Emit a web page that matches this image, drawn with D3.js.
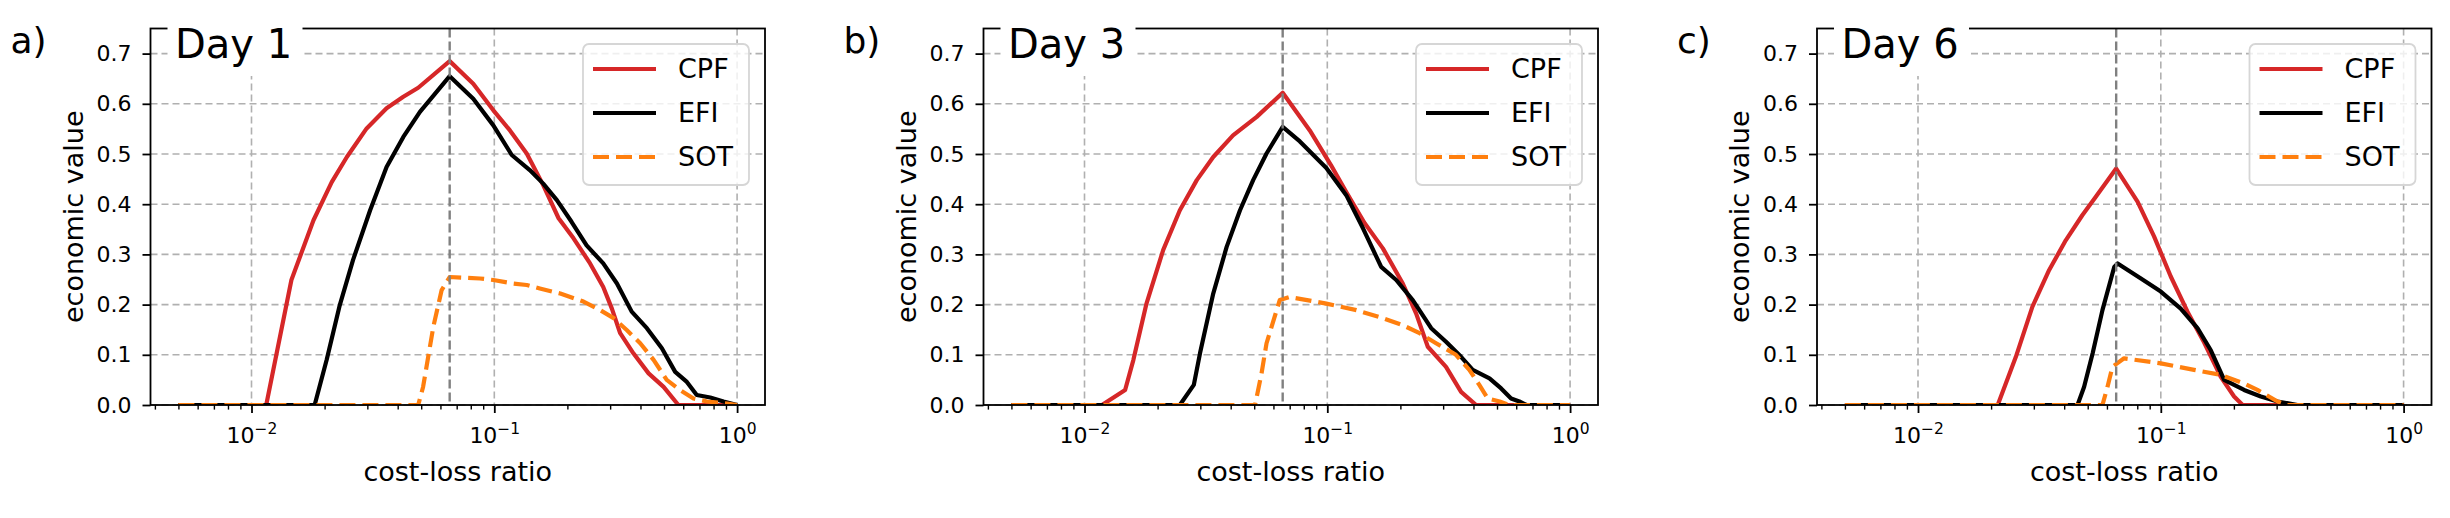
<!DOCTYPE html>
<html>
<head>
<meta charset="utf-8">
<script src="https://cdn.jsdelivr.net/npm/d3@7/dist/d3.min.js"></script>
<style>
    body { margin: 0; background: #fff; }
    svg text { font-family: "DejaVu Sans", sans-serif; fill: #000; }
</style>
</head>
<body>
<script>
// 数据：每条曲线 [cost-loss ratio, economic value]
const day1Cpf = [[0.005, 0], [0.0115, 0], [0.0146, 0.249], [0.0180, 0.368], [0.0214, 0.444], [0.0247, 0.494], [0.0298, 0.551], [0.0360, 0.591], [0.0422, 0.614], [0.0486, 0.632], [0.0655, 0.685], [0.0819, 0.640], [0.0991, 0.587], [0.116, 0.547], [0.136, 0.501], [0.159, 0.438], [0.184, 0.372], [0.212, 0.332], [0.248, 0.282], [0.281, 0.235], [0.305, 0.192], [0.330, 0.143], [0.374, 0.103], [0.432, 0.063], [0.498, 0.036], [0.573, 0], [1, 0]];
const day1Efi = [[0.005, 0], [0.0182, 0], [0.0204, 0.090], [0.0231, 0.199], [0.0262, 0.289], [0.0308, 0.388], [0.0360, 0.474], [0.0422, 0.534], [0.0494, 0.584], [0.0655, 0.655], [0.0819, 0.610], [0.0991, 0.557], [0.118, 0.498], [0.140, 0.468], [0.159, 0.441], [0.181, 0.408], [0.208, 0.365], [0.240, 0.318], [0.281, 0.282], [0.320, 0.242], [0.368, 0.186], [0.425, 0.153], [0.490, 0.113], [0.556, 0.066], [0.621, 0.046], [0.682, 0.020], [0.775, 0.015], [0.879, 0.007], [1, 0]];
const day1Sot = [[0.005, 0], [0.0486, 0], [0.0509, 0.036], [0.0561, 0.156], [0.0607, 0.229], [0.0655, 0.255], [0.0873, 0.252], [0.0991, 0.249], [0.120, 0.242], [0.136, 0.239], [0.154, 0.232], [0.187, 0.222], [0.233, 0.206], [0.273, 0.189], [0.310, 0.173], [0.352, 0.149], [0.399, 0.123], [0.453, 0.090], [0.513, 0.050], [0.582, 0.030], [0.661, 0.013], [0.752, 0.007], [0.910, 0.003], [1, 0]];

const day3Cpf = [[0.005, 0], [0.0118, 0], [0.0147, 0.030], [0.0159, 0.090], [0.0180, 0.202], [0.0211, 0.309], [0.0247, 0.388], [0.0290, 0.448], [0.0339, 0.494], [0.0409, 0.537], [0.0512, 0.574], [0.0655, 0.622], [0.0847, 0.547], [0.1035, 0.478], [0.1197, 0.424], [0.1426, 0.362], [0.1694, 0.312], [0.2046, 0.242], [0.2323, 0.182], [0.2594, 0.116], [0.3083, 0.076], [0.3556, 0.026], [0.4102, 0], [1, 0]];
const day3Efi = [[0.005, 0], [0.0247, 0], [0.0282, 0.040], [0.0299, 0.103], [0.0339, 0.222], [0.0385, 0.315], [0.0437, 0.388], [0.0495, 0.448], [0.0562, 0.501], [0.0655, 0.554], [0.0771, 0.525], [0.0991, 0.472], [0.1197, 0.418], [0.1403, 0.352], [0.1667, 0.275], [0.1923, 0.249], [0.2249, 0.209], [0.2679, 0.153], [0.3083, 0.126], [0.3556, 0.096], [0.3972, 0.070], [0.4656, 0.053], [0.520, 0.033], [0.5715, 0.013], [0.618, 0.007], [0.661, 0], [1, 0]];
const day3Sot = [[0.005, 0], [0.0504, 0], [0.0536, 0.063], [0.0562, 0.123], [0.0637, 0.209], [0.0700, 0.215], [0.0991, 0.202], [0.1318, 0.189], [0.1694, 0.173], [0.2046, 0.159], [0.2399, 0.143], [0.2805, 0.123], [0.3388, 0.100], [0.3846, 0.070], [0.4227, 0.040], [0.4581, 0.013], [0.5129, 0.007], [0.562, 0], [1, 0]];

const day6Cpf = [[0.005, 0], [0.0213, 0], [0.0253, 0.096], [0.0296, 0.196], [0.0347, 0.269], [0.0406, 0.328], [0.0475, 0.378], [0.0540, 0.415], [0.0655, 0.471], [0.0802, 0.405], [0.0938, 0.336], [0.1099, 0.256], [0.1288, 0.186], [0.1507, 0.125], [0.1766, 0.056], [0.2004, 0.017], [0.2173, 0], [1, 0]];
const day6Efi = [[0.005, 0], [0.0454, 0], [0.0483, 0.036], [0.0524, 0.103], [0.0575, 0.189], [0.0643, 0.275], [0.0664, 0.282], [0.0828, 0.252], [0.1, 0.226], [0.1208, 0.192], [0.1416, 0.153], [0.1607, 0.109], [0.1824, 0.050], [0.2203, 0.030], [0.2582, 0.017], [0.3027, 0.007], [0.3656, 0], [1, 0]];
const day6Sot = [[0.005, 0], [0.0575, 0], [0.0603, 0.036], [0.0632, 0.076], [0.0706, 0.093], [0.1, 0.083], [0.1371, 0.070], [0.1766, 0.060], [0.2203, 0.043], [0.250, 0.030], [0.3027, 0.007], [0.331, 0], [1, 0]];

const seriesNames = ["CPF", "EFI", "SOT"];
const panelLabels = ["a)", "b)", "c)"];
const panelTitles = ["Day 1", "Day 3", "Day 6"];
const panelSeries = [[day1Cpf, day1Efi, day1Sot], [day3Cpf, day3Efi, day3Sot], [day6Cpf, day6Efi, day6Sot]];
const yTicks = [0, 0.1, 0.2, 0.3, 0.4, 0.5, 0.6, 0.7];
const xMajorTicks = [0.01, 0.1, 1];
const peakRatio = 0.0655;

const seriesStyle = [
    { color: "#d62728", dash: null },
    { color: "#000000", dash: null },
    { color: "#ff7f0e", dash: "16,7" }
];

const W = 2450, H = 518;
const panelLeft = [150.5, 983.5, 1817];
const plotW = 614.5, plotTop = 28.5, plotBottom = 405;

const svg = d3.select("body").append("svg").attr("width", W).attr("height", H);

// 绘制单个子图
function drawPanel(idx) {
    const pl = panelLeft[idx], pr = pl + plotW;
    const x = d3.scaleLog().domain([0.003837, 1.303]).range([pl, pr]);
    const y = d3.scaleLinear().domain([0, 0.75]).range([plotBottom, plotTop]);
    const g = svg.append("g").attr("class", "panel");

    const clipId = "clip" + idx;
    g.append("clipPath").attr("id", clipId).append("rect")
        .attr("x", pl).attr("y", plotTop).attr("width", plotW).attr("height", plotBottom - plotTop);

    // 网格
    const grid = g.append("g").attr("stroke", "#b0b0b0").attr("stroke-width", 1.6).attr("stroke-dasharray", "7,4");
    grid.selectAll("line.h").data(yTicks).join("line").attr("class", "h")
        .attr("x1", pl).attr("x2", pr).attr("y1", d => y(d)).attr("y2", d => y(d));
    grid.selectAll("line.v").data(xMajorTicks).join("line").attr("class", "v")
        .attr("x1", d => x(d)).attr("x2", d => x(d)).attr("y1", plotTop).attr("y2", plotBottom);

    // 曲线
    const line = d3.line().x(d => x(d[0])).y(d => y(d[1]));
    const lines = g.append("g").attr("clip-path", `url(#${clipId})`);
    panelSeries[idx].forEach((s, i) => {
        lines.append("path").datum(s)
            .attr("fill", "none")
            .attr("stroke", seriesStyle[i].color)
            .attr("stroke-width", 4.2)
            .attr("stroke-linejoin", "round")
            .attr("stroke-dasharray", seriesStyle[i].dash)
            .attr("d", line);
    });

    // 最优比例竖线
    g.append("line")
        .attr("x1", x(peakRatio)).attr("x2", x(peakRatio))
        .attr("y1", plotTop).attr("y2", plotBottom)
        .attr("stroke", "#808080").attr("stroke-width", 2.4).attr("stroke-dasharray", "9,4");

    // 坐标轴
    const gy = g.append("g").attr("transform", `translate(${pl},0)`)
        .call(d3.axisLeft(y).tickValues(yTicks).tickSize(8).tickPadding(11).tickFormat(d3.format(".1f")));
    gy.select(".domain").remove();
    gy.selectAll(".tick line").attr("stroke", "#000").attr("stroke-width", 1.8);
    gy.selectAll(".tick text").attr("font-size", 22).attr("font-family", "DejaVu Sans");

    const minor = x.ticks().filter(t => !xMajorTicks.includes(t));
    const gxm = g.append("g").attr("transform", `translate(0,${plotBottom})`)
        .call(d3.axisBottom(x).tickValues(minor).tickSize(4.6).tickFormat(""));
    gxm.select(".domain").remove();
    gxm.selectAll(".tick line").attr("stroke", "#000").attr("stroke-width", 1.4);

    const gx = g.append("g").attr("transform", `translate(0,${plotBottom})`)
        .call(d3.axisBottom(x).tickValues(xMajorTicks).tickSize(8).tickFormat(""));
    gx.select(".domain").remove();
    gx.selectAll(".tick line").attr("stroke", "#000").attr("stroke-width", 1.8);
    gx.selectAll(".tick").append("text")
        .attr("y", 38).attr("text-anchor", "middle").attr("font-size", 22)
        .attr("font-family", "DejaVu Sans").attr("fill", "#000")
        .each(function (d) {
            const t = d3.select(this);
            const e = Math.round(Math.log10(d));
            t.append("tspan").text("10");
            t.append("tspan").attr("dy", -9).attr("font-size", 15.5).text(e < 0 ? "\u2212" + (-e) : String(e));
        });

    // 边框
    g.append("rect").attr("x", pl).attr("y", plotTop).attr("width", plotW).attr("height", plotBottom - plotTop)
        .attr("fill", "none").attr("stroke", "#000").attr("stroke-width", 1.8);

    // 轴标题
    g.append("text").attr("transform", `translate(${pl - 68},${(plotTop + plotBottom) / 2}) rotate(-90)`)
        .attr("text-anchor", "middle").attr("font-size", 27).text("economic value");
    g.append("text").attr("x", (pl + pr) / 2).attr("y", 481)
        .attr("text-anchor", "middle").attr("font-size", 27).text("cost-loss ratio");

    // 子图编号和标题
    g.append("text").attr("x", pl - 140).attr("y", 53).attr("font-size", 36).text(panelLabels[idx]);
    g.append("rect").attr("x", pl + 17).attr("y", 8).attr("width", 135).attr("height", 68).attr("fill", "#fff");
    g.append("text").attr("x", pl + 24.5).attr("y", 58.3).attr("font-size", 40).text(panelTitles[idx]);

    // 图例
    const bx = pr - 16 - 166, by = plotTop + 15.5;
    const lg = g.append("g").attr("class", "legend");
    lg.append("rect").attr("x", bx).attr("y", by).attr("width", 166).attr("height", 141).attr("rx", 6)
        .attr("fill", "#fff").attr("fill-opacity", 0.8).attr("stroke", "#d6d6d6").attr("stroke-width", 1.8);
    const item = lg.selectAll("g").data(seriesNames).join("g")
        .attr("transform", (d, i) => `translate(${bx},${by + 25 + i * 44})`);
    item.append("line").attr("x1", 10).attr("x2", 73).attr("y1", 0).attr("y2", 0)
        .attr("stroke", (d, i) => seriesStyle[i].color).attr("stroke-width", 4.2)
        .attr("stroke-dasharray", (d, i) => seriesStyle[i].dash);
    item.append("text").attr("x", 95).attr("y", 8.5).attr("font-size", 27).text(d => d);
}

panelLeft.forEach((d, i) => drawPanel(i));
</script>
</body>
</html>
